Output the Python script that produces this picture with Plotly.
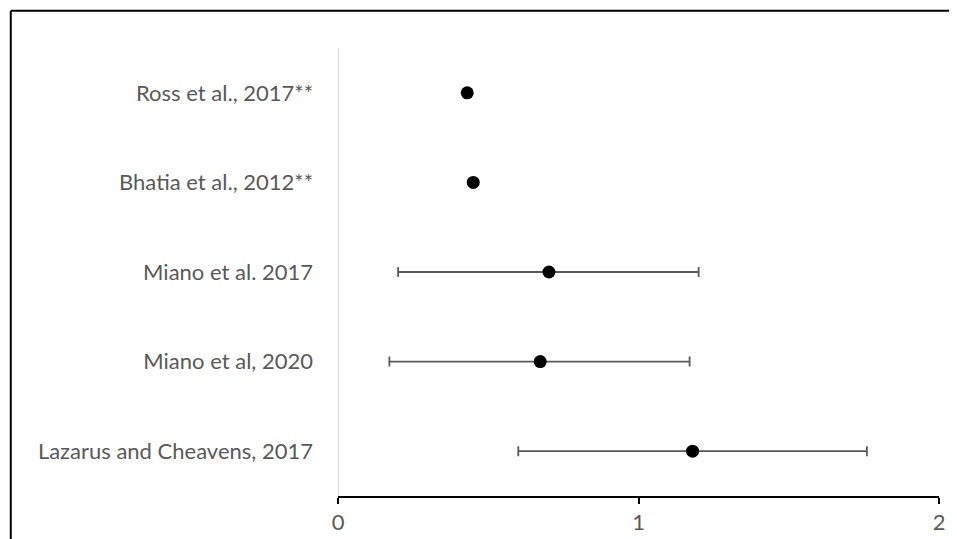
import plotly.graph_objects as go

studies = ["Lazarus and Cheavens, 2017", "Miano et al, 2020", "Miano et al. 2017",
           "Bhatia et al., 2012**", "Ross et al., 2017**"]
effect = [1.18, 0.673, 0.702, 0.450, 0.430]
ci_low = [0.600, 0.171, 0.200, None, None]
ci_high = [1.760, 1.170, 1.200, None, None]

pos = list(range(1, len(studies) + 1))
err_plus = [(h - e) if h is not None else 0 for h, e in zip(ci_high, effect)]
err_minus = [(e - l) if l is not None else 0 for l, e in zip(ci_low, effect)]
has_ci = [l is not None for l in ci_low]

# page has an 8px body margin; compensate
OFF = 8
W, H = 957, 539
ml, mr, mt, mb = 337.5 - OFF, 18 + OFF, 47.7 - OFF, 38 + OFF
pw, ph = W - ml - mr, H - mt - mb

fig = go.Figure()
fig.add_trace(go.Scatter(
    x=[e for e, c in zip(effect, has_ci) if c],
    y=[p for p, c in zip(pos, has_ci) if c],
    mode="markers",
    marker=dict(size=13, color="black"),
    error_x=dict(type="data", symmetric=False,
                 array=[v for v, c in zip(err_plus, has_ci) if c],
                 arrayminus=[v for v, c in zip(err_minus, has_ci) if c],
                 color="#595959", thickness=1.8, width=5),
    showlegend=False, cliponaxis=False,
))
fig.add_trace(go.Scatter(
    x=[e for e, c in zip(effect, has_ci) if not c],
    y=[p for p, c in zip(pos, has_ci) if not c],
    mode="markers",
    marker=dict(size=13, color="black"),
    showlegend=False, cliponaxis=False,
))

# outer frame (top and left edges visible)
bx = (10 - OFF - ml) / pw
by = 1 + (mt - (10 - OFF)) / ph
fig.add_shape(type="line", xref="paper", yref="paper", x0=bx, x1=1.2, y0=by, y1=by,
              line=dict(color="black", width=2))
fig.add_shape(type="line", xref="paper", yref="paper", x0=bx, x1=bx, y0=by, y1=-0.2,
              line=dict(color="black", width=2))

fig.update_layout(
    width=W, height=H,
    margin=dict(l=ml, r=mr, t=mt, b=mb, pad=0),
    paper_bgcolor="white", plot_bgcolor="white",
    font=dict(family="Lato, Liberation Sans, sans-serif", size=22, color="#595959"),
    xaxis=dict(range=[0, 2], tickvals=[0, 1, 2], ticktext=["0", "1", "2"],
               showgrid=False, zeroline=False, showline=True, linecolor="black",
               linewidth=1.8, ticks="outside", ticklen=6, tickcolor="black",
               tickwidth=1.5, tickfont=dict(size=22, color="#595959")),
    yaxis=dict(range=[0.5, 5.5], tickvals=pos, ticktext=studies,
               showgrid=False, zeroline=False, showline=False, ticks="",
               ticklabelstandoff=24, tickfont=dict(size=22, color="#595959")),
)
fig.add_shape(type="line", xref="x", yref="paper", x0=0, x1=0, y0=0, y1=1,
              line=dict(color="#d9d9d9", width=2), layer="below")

fig.write_html("out.html")
